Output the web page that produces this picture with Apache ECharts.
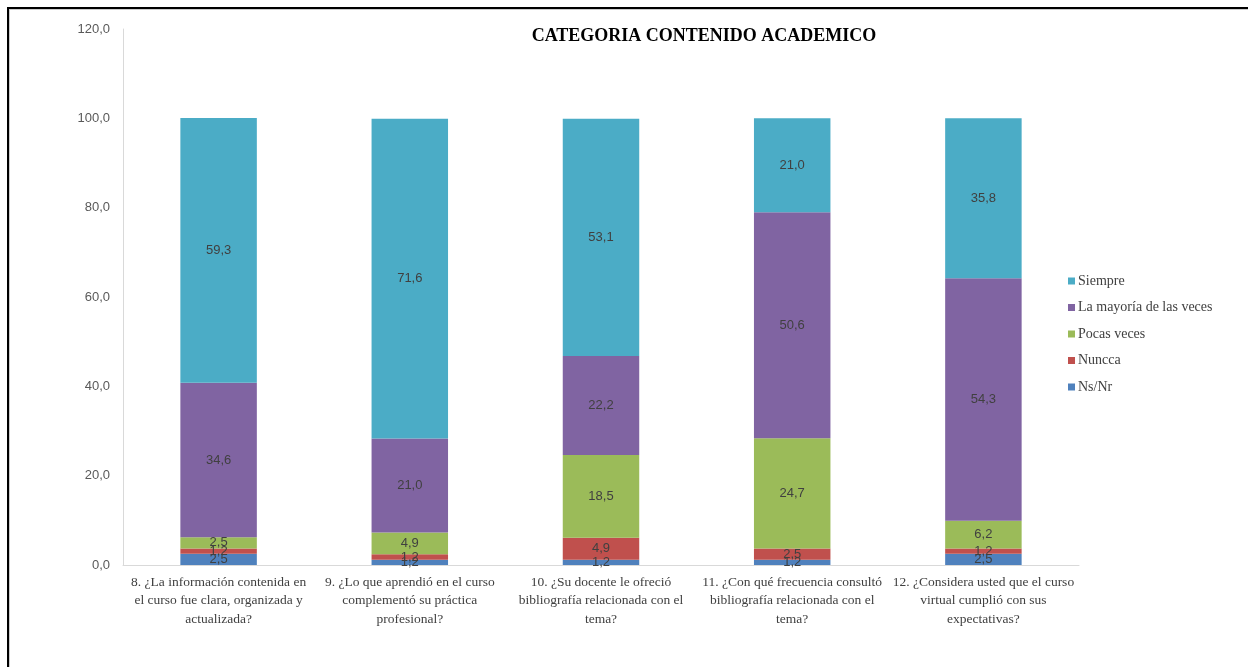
<!DOCTYPE html>
<html>
<head>
<meta charset="utf-8">
<script src="https://cdn.jsdelivr.net/npm/echarts@6/dist/echarts.min.js"></script>
<style>
html,body{margin:0;padding:0;background:#fff;}
#wrap{position:relative;width:1248px;height:667px;overflow:hidden;}
#chart{position:absolute;left:0;top:0;width:1248px;height:667px;}
#frame{position:absolute;left:7px;top:7px;width:1260px;height:700px;border-left:2.5px solid #000;border-top:2.5px solid #000;box-shadow:inset 1px 1px 0 #ccc;pointer-events:none;}
</style>
</head>
<body>
<div id="wrap"><div id="chart"></div><div id="frame"></div></div>
<script>
const categories = [
  "8. ¿La información contenida en\nel curso fue clara, organizada y\nactualizada?",
  "9. ¿Lo que aprendió en el curso\ncomplementó su práctica\nprofesional?",
  "10. ¿Su docente le ofreció\nbibliografía relacionada con el\ntema?",
  "11. ¿Con qué frecuencia consultó\nbibliografía relacionada con el\ntema?",
  "12. ¿Considera usted que el curso\nvirtual cumplió con sus\nexpectativas?"
];
const nsnr     = [2.5, 1.2, 1.2, 1.2, 2.5];
const nuncca   = [1.2, 1.2, 4.9, 2.5, 1.2];
const pocas    = [2.5, 4.9, 18.5, 24.7, 6.2];
const mayoria  = [34.6, 21.0, 22.2, 50.6, 54.3];
const siempre  = [59.3, 71.6, 53.1, 21.0, 35.8];
const seriesNames = ["Ns/Nr", "Nuncca", "Pocas veces", "La mayoría de las veces", "Siempre"];
const colors = ["#4F81BD", "#C0504D", "#9BBB59", "#8064A2", "#4BACC6"];
const title = "CATEGORIA CONTENIDO ACADEMICO";

const fmt = v => v.toFixed(1).replace('.', ',');
const data = [nsnr, nuncca, pocas, mayoria, siempre];

const chart = echarts.init(document.getElementById('chart'));
chart.setOption({
  animation: false,
  title: {
    text: title, left: 699, top: 22, textAlign: 'center',
    textStyle: {fontFamily: 'Liberation Serif', fontWeight: 'bold', fontSize: 18, color: '#000'}
  },
  legend: {
    orient: 'vertical', left: 1063, top: 269,
    data: ["Siempre", "La mayoría de las veces", "Pocas veces", "Nuncca", "Ns/Nr"],
    itemWidth: 7, itemHeight: 7, itemGap: 12.5, icon: 'rect',
    textStyle: {fontFamily: 'Liberation Serif', fontSize: 14, color: '#404040', padding: [0,0,0,-2]}
  },
  grid: {left: 123, right: 169, top: 29, bottom: 102},
  xAxis: {
    type: 'category', data: categories,
    axisLine: {lineStyle: {color: '#D9D9D9'}},
    axisTick: {show: false},
    axisLabel: {fontFamily: 'Liberation Serif', fontSize: 13.5, color: '#404040', lineHeight: 18.5, margin: 8, interval: 0}
  },
  yAxis: {
    type: 'value', min: 0, max: 120, interval: 20,
    axisLine: {show: true, lineStyle: {color: '#D9D9D9'}},
    axisTick: {show: false},
    splitLine: {show: false},
    axisLabel: {formatter: v => fmt(v), fontFamily: 'Liberation Sans', fontSize: 13, color: '#595959', margin: 13}
  },
  series: seriesNames.map((n, i) => ({
    name: n, type: 'bar', stack: 'total', barWidth: '40%',
    data: data[i],
    itemStyle: {color: colors[i]},
    label: {show: true, position: 'inside', formatter: p => fmt(p.value),
      fontFamily: 'Liberation Sans', fontSize: 13, color: '#404040'}
  }))
});
</script>
</body>
</html>
